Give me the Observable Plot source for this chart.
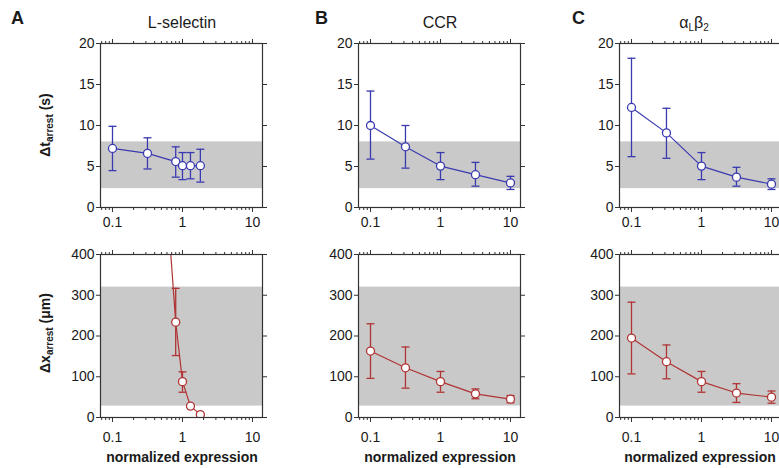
<!DOCTYPE html>
<html>
<head>
<meta charset="utf-8">
<script src="https://cdn.jsdelivr.net/npm/d3@7"></script>
<script src="https://cdn.jsdelivr.net/npm/@observablehq/plot@0.6"></script>
<style>
  body { margin: 0; background: #fff; }
  #fig { position: relative; width: 779px; height: 468px; overflow: hidden; font-family: "Liberation Sans", Arial, sans-serif; color: #1a1a1a; }
  .abs { position: absolute; white-space: nowrap; }
  .letter { font-weight: bold; font-size: 18px; }
  .title { font-size: 16px; transform: translate(-50%, -50%); }
  .ylab { font-weight: bold; font-size: 14px; transform: translate(-50%, -50%) rotate(-90deg); }
  .xlab { font-weight: bold; font-size: 14px; transform: translate(-50%, -50%); }
  sub { font-size: 10px; vertical-align: -3px; line-height: 0; }
  .plot { position: absolute; }
</style>
</head>
<body>
<div id="fig"></div>
<script>
// ---- data ----
const panelLetters = ["A", "B", "C"];
const panelTitles = ["L-selectin", "CCR", "α<sub>L</sub>β<sub>2</sub>"];

const xDomain = [0.0674, 13.9];
const xMajorTicks = [0.1, 1, 10];
const xTickLabels = ["0.1", "1", "10"];
const xMinorTicks = [0.07, 0.08, 0.09, 0.2, 0.3, 0.4, 0.5, 0.6, 0.7, 0.8, 0.9, 2, 3, 4, 5, 6, 7, 8, 9];

const tDomain = [0, 20];
const tTicks = [0, 5, 10, 15, 20];
const tBand = [2.3, 8.0];
const xDomainDx = [0, 400];
const xTicksDx = [0, 100, 200, 300, 400];
const xBandDx = [28, 320];

// L-selectin
const lselX = [0.1, 0.316, 0.8, 1.0, 1.3, 1.8];
const lselT = [7.2, 6.6, 5.6, 5.1, 5.1, 5.1];
const lselTLo = [4.5, 4.7, 3.7, 3.4, 3.5, 3.1];
const lselTHi = [9.9, 8.5, 7.4, 6.7, 6.7, 7.1];
const lselDxX = [0.316, 0.8, 1.0, 1.3, 1.8];
const lselDx = [1190, 234, 88, 28, 7];
const lselDxLo = [1190, 152, 62, 28, 7];
const lselDxHi = [1190, 317, 112, 28, 7];

// CCR
const ccrX = [0.1, 0.316, 1, 3.16, 10];
const ccrT = [10.0, 7.4, 5.05, 4.0, 3.0];
const ccrTLo = [5.9, 4.8, 3.4, 2.6, 2.2];
const ccrTHi = [14.2, 10.0, 6.7, 5.5, 3.8];
const ccrDx = [163, 122, 88, 58, 45];
const ccrDxLo = [96, 72, 62, 46, 36];
const ccrDxHi = [230, 173, 113, 70, 54];

// alphaL beta2
const lfaX = [0.1, 0.316, 1, 3.16, 10];
const lfaT = [12.2, 9.1, 5.05, 3.7, 2.85];
const lfaTLo = [6.2, 6.0, 3.4, 2.6, 2.2];
const lfaTHi = [18.2, 12.1, 6.7, 4.9, 3.5];
const lfaDx = [195, 137, 88, 60, 50];
const lfaDxLo = [107, 95, 62, 37, 35];
const lfaDxHi = [283, 178, 113, 83, 65];

// ---- layout ----
const blue = "#3a3ab0";
const red = "#b03434";
const axisColor = "#333";
const frameLefts = [100, 358, 619];
const frameW = 162;
const rows = [
  {top: 43, h: 164, pad: 5},
  {top: 254, h: 163, pad: 10}
];
const mL = 40, mR = 12, mT = 12, mB = 34;

const fig = document.getElementById("fig");

const capSymbol = {
  draw(ctx, size) {
    const w = Math.sqrt(size / Math.PI);
    ctx.moveTo(-w, 0);
    ctx.lineTo(w, 0);
  }
};

function rowsOf(xs, ys, lo, hi) {
  return xs.map((x, i) => ({x, y: ys[i], lo: lo[i], hi: hi[i]}));
}

function panel(col, row, data, yDomain, yTicks, band, color, clip) {
  const r = rows[row];
  const chart = Plot.plot({
    width: mL + frameW + mR,
    height: mT + r.h + mB,
    marginLeft: mL, marginRight: mR, marginTop: mT, marginBottom: mB,
    style: {fontFamily: '"Liberation Sans", Arial, sans-serif', fontSize: "14px", color: "#1a1a1a", background: "transparent", overflow: "visible"},
    x: {type: "log", domain: xDomain},
    y: {domain: yDomain},
    marks: [
      Plot.rect([band], {x1: xDomain[0], x2: xDomain[1], y1: d => d[0], y2: d => d[1], fill: "#c9c9c9"}),
      Plot.ruleX(data, {x: "x", y1: "lo", y2: "hi", stroke: color, strokeWidth: 1.3, clip}),
      Plot.dot(data, {x: "x", y: "lo", symbol: capSymbol, r: 4, stroke: color, strokeWidth: 1.3, clip}),
      Plot.dot(data, {x: "x", y: "hi", symbol: capSymbol, r: 4, stroke: color, strokeWidth: 1.3, clip}),
      Plot.line(data, {x: "x", y: "y", stroke: color, strokeWidth: 1.2, clip}),
      Plot.dot(data, {x: "x", y: "y", r: 4, fill: "white", stroke: color, strokeWidth: 1.3, clip}),
      Plot.frame({stroke: axisColor, strokeWidth: 1.2}),
      Plot.axisY({anchor: "left", ticks: yTicks, tickSize: 4, tickPadding: 2, fontSize: 14, label: null, stroke: axisColor}),
      Plot.axisY({anchor: "right", ticks: yTicks, tickSize: 4, tickFormat: () => "", label: null, stroke: axisColor}),
      Plot.axisX({anchor: "bottom", ticks: xMajorTicks, tickSize: 5, tickPadding: r.pad, fontSize: 14, tickFormat: d => xTickLabels[xMajorTicks.indexOf(d)], label: null, stroke: axisColor}),
      Plot.axisX({anchor: "bottom", ticks: xMinorTicks, tickSize: 3, tickFormat: () => "", label: null, stroke: axisColor}),
      Plot.axisX({anchor: "top", ticks: xMajorTicks, tickSize: 5, tickFormat: () => "", label: null, stroke: axisColor}),
      Plot.axisX({anchor: "top", ticks: xMinorTicks, tickSize: 3, tickFormat: () => "", label: null, stroke: axisColor})
    ]
  });
  chart.classList.add("plot");
  chart.style.left = (frameLefts[col] - mL) + "px";
  chart.style.top = (r.top - mT) + "px";
  fig.appendChild(chart);
}

panel(0, 0, rowsOf(lselX, lselT, lselTLo, lselTHi), tDomain, tTicks, tBand, blue, false);
panel(1, 0, rowsOf(ccrX, ccrT, ccrTLo, ccrTHi), tDomain, tTicks, tBand, blue, false);
panel(2, 0, rowsOf(lfaX, lfaT, lfaTLo, lfaTHi), tDomain, tTicks, tBand, blue, false);
panel(0, 1, rowsOf(lselDxX, lselDx, lselDxLo, lselDxHi), xDomainDx, xTicksDx, xBandDx, red, true);
panel(1, 1, rowsOf(ccrX, ccrDx, ccrDxLo, ccrDxHi), xDomainDx, xTicksDx, xBandDx, red, false);
panel(2, 1, rowsOf(lfaX, lfaDx, lfaDxLo, lfaDxHi), xDomainDx, xTicksDx, xBandDx, red, false);

// ---- text ----
function addText(cls, html, x, y) {
  const d = document.createElement("div");
  d.className = "abs " + cls;
  d.innerHTML = html;
  d.style.left = x + "px";
  d.style.top = y + "px";
  fig.appendChild(d);
}
const letterX = [11, 315, 572];
const titleX = [182, 440, 694];
panelLetters.forEach((l, i) => addText("letter", l, letterX[i], 8));
panelTitles.forEach((t, i) => addText("title", t, titleX[i], 23));
addText("ylab", "Δt<sub>arrest</sub> (s)", 45, 125);
addText("ylab", "Δx<sub>arrest</sub> (μm)", 45, 333);
const xlabX = [182, 440, 700];
xlabX.forEach(x => addText("xlab", "normalized expression", x, 457));
</script>
</body>
</html>
